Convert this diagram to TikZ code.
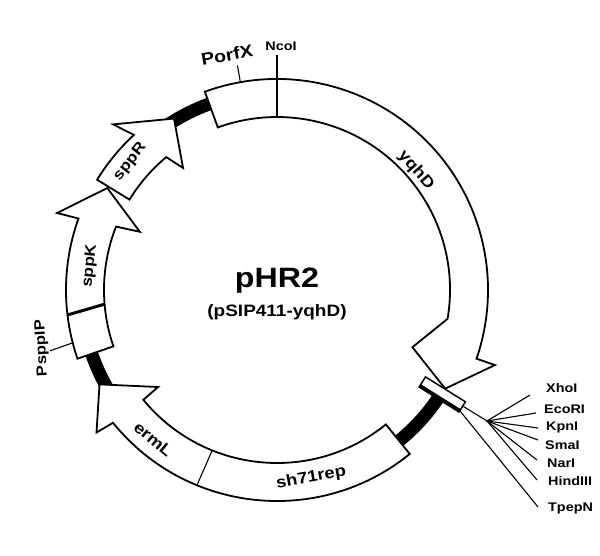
\documentclass[tikz,border=0pt]{standalone}
\usepackage{fontspec}
\setmainfont{Liberation Sans}
\newcommand{\wtext}[2]{\scalebox{1.15}[1]{\fontsize{#1}{#1}\selectfont\bfseries #2}}
\begin{document}
\begin{tikzpicture}[x=1pt,y=1pt,
  gene/.style={draw, fill=white, line width=1.8pt, line join=miter},
  fine/.style={line width=1.1pt},
  bbone/.style={line width=13pt},
  lbl/.style={inner sep=0pt}]
\useasboundingbox (0,0) rectangle (600,555);
\fill[white] (0,0) rectangle (600,555);
\begin{scope}[shift={(277,265)}]
  % black backbone segments
  \draw[bbone] (123:198) arc[start angle=123,end angle=108,radius=198pt];
  \draw[bbone] (197:196) arc[start angle=197,end angle=210,radius=196pt];
  \draw[bbone] (307:194) arc[start angle=307,end angle=327,radius=194pt];
  % yqhD (with PorfX region)
  \path[gene] (110:211) arc[start angle=110,end angle=-19,radius=211pt]
     -- (-19:230.5) -- (-30.4:195) -- (-22.9:147) -- (-9.6:173)
     arc[start angle=-9.6,end angle=110,radius=173pt] -- cycle;
  % sppK (with PsppIP region)
  \path[gene] (199:211) arc[start angle=199,end angle=160.2,radius=211pt]
     -- (160.7:233) -- (149:198) -- (157:149) -- (158.5:173)
     arc[start angle=158.5,end angle=199,radius=173pt] -- cycle;
  % sppR
  \path[gene] (148.5:211) arc[start angle=148.5,end angle=132.7,radius=211pt]
     -- (134.7:233) -- (121:200) -- (127.6:154) -- (129.8:173)
     arc[start angle=129.8,end angle=148.5,radius=173pt] -- cycle;
  % ermL + sh71rep
  \path[gene] (309:211) arc[start angle=309,end angle=219,radius=211pt]
     -- (218.3:230) -- (208:201) -- (219.2:153.5) -- (219.4:173)
     arc[start angle=219.4,end angle=309,radius=173pt] -- cycle;
  % internal boundaries
  \coordinate (kA) at (186.8:211); \coordinate (kB) at (184.7:173);
  \draw[line width=3pt] (kA) -- (kB);
  \coordinate (eA) at (248:173); \coordinate (eB) at (247.7:211);
  \draw[fine] (eA) -- (eB);
  \coordinate (nA) at (90:173); \coordinate (nB) at (90:235);
  \draw[fine] (nA) -- (nB);
  \coordinate (pA) at (100:211); \coordinate (pB) at (100:228);
  \draw[fine] (pA) -- (pB);
  \coordinate (sA) at (194.5:211); \coordinate (sB) at (195:235);
  \draw[fine] (sA) -- (sB);
  % MCS bar
  \node[draw, fill=white, line width=1.5pt, minimum width=47pt, minimum height=10pt,
        inner sep=0pt, rotate=-32] (bar) at (-32:195.5) {};
  \draw[line width=4pt] (bar.south west) -- (bar.south east);
  % gene labels
  \node[lbl, rotate=-49] (lyqhd) at (40.8:183.6) {\wtext{16}{yqhD}};
  \node[lbl, rotate=52] (lsppr) at (138.9:195) {\wtext{15}{sppR}};
  \node[lbl, rotate=84] (lsppk) at (172.7:188.5) {\wtext{15}{sppK}};
  \node[lbl, rotate=-40] (lerml) at (230.4:194) {\wtext{16}{ermL}};
  \node[lbl, rotate=10] (lsh) at (280.3:191) {\wtext{16}{sh71rep}};
\end{scope}
% outside labels
\node[lbl] (lnco) at (281,509) {\wtext{12.5}{NcoI}};
\node[lbl, rotate=10] (lporf) at (227,500) {\wtext{17}{PorfX}};
\node[lbl, rotate=93] (lpspp) at (42,207) {\wtext{14.5}{PsppIP}};
% centre
\node[lbl, anchor=base] (title) at (277,267) {\wtext{28}{pHR2}};
\node[lbl, anchor=base] (sub) at (277,238) {\wtext{16.5}{(pSIP411-yqhD)}};
% site labels
\node[lbl, anchor=west] (xho) at (546,167) {\wtext{12.5}{XhoI}};
\node[lbl, anchor=west] (eco) at (544,146) {\wtext{12.5}{EcoRI}};
\node[lbl, anchor=west] (kpn) at (546,128) {\wtext{12.5}{KpnI}};
\node[lbl, anchor=west] (sma) at (545,110) {\wtext{12.5}{SmaI}};
\node[lbl, anchor=west] (nar) at (547,92) {\wtext{12.5}{NarI}};
\node[lbl, anchor=west] (hind) at (548,74) {\wtext{12.5}{HindIII}};
\node[lbl, anchor=west] (tpep) at (548,47) {\wtext{12.5}{TpepN}};
% fan
\coordinate (fan) at (487,134);
\coordinate (fXho) at (530,160);
\coordinate (fEco) at (536,142);
\coordinate (fKpn) at (538,127);
\coordinate (fSma) at (538,115);
\coordinate (fNar) at (537,95);
\coordinate (fHind) at (537,75);
\coordinate (fTpep) at (538,48);
\draw[fine] (bar.east) -- (fan);
\foreach \e in {fXho,fEco,fKpn,fSma,fNar,fHind} \draw[fine] (fan) -- (\e);
\draw[fine] (bar.south east) -- (fTpep);
\end{tikzpicture}
\end{document}
